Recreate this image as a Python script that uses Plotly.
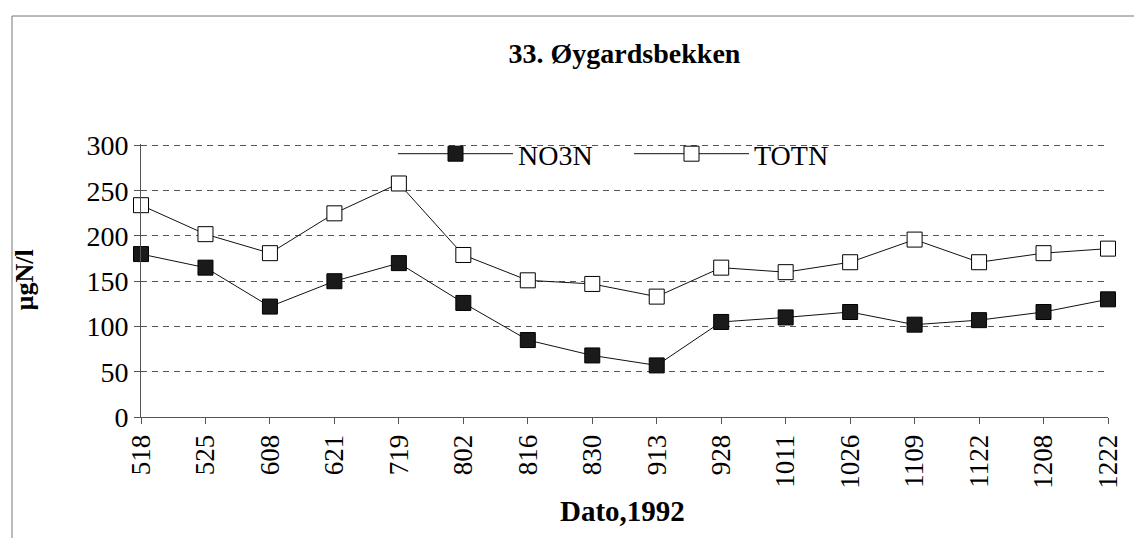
import plotly.graph_objects as go

dates = ["518", "525", "608", "621", "719", "802", "816", "830", "913",
         "928", "1011", "1026", "1109", "1122", "1208", "1222"]
no3n = [180, 165, 122, 150, 170, 126, 85, 68, 57, 105, 110, 116, 102, 107, 116, 130]
totn = [234, 202, 181, 225, 258, 179, 151, 147, 133, 165, 160, 171, 196, 171, 181, 186]

title_text = "33. Øygardsbekken"
y_title = "µgN/l"
x_title = "Dato,1992"

SERIF = "Liberation Serif, Times New Roman, serif"

# plot-area geometry (px)
L, R, T, B = 133, 1100, 136, 409
W, H = 1142, 538
pw, ph = R - L, B - T

def px_x(x):
    return (x - L) / pw

def px_y(y):
    return (B - y) / ph

fig = go.Figure()
fig.add_trace(go.Scatter(
    x=dates, y=no3n, name="NO3N", mode="lines+markers",
    line=dict(color="#111111", width=1),
    marker=dict(symbol="square", size=15, color="#1a1a1a",
                line=dict(color="#000000", width=1)),
    cliponaxis=False, legend="legend",
))
fig.add_trace(go.Scatter(
    x=dates, y=totn, name="TOTN", mode="lines+markers",
    line=dict(color="#111111", width=1),
    marker=dict(symbol="square", size=15, color="#ffffff",
                line=dict(color="#000000", width=1)),
    cliponaxis=False, legend="legend2",
))

leg_common = dict(orientation="h", xanchor="left", yanchor="middle",
                  itemwidth=115,
                  bgcolor="rgba(0,0,0,0)", font=dict(size=28, family=SERIF))

fig.update_layout(
    width=W, height=H,
    margin=dict(l=L, r=W - R, t=T, b=H - B, autoexpand=False),
    paper_bgcolor="white", plot_bgcolor="white",
    font=dict(family=SERIF, color="black"),
    title=dict(text="<b>" + title_text + "</b>", x=0.5, xref="paper",
               y=1 - 45 / H, yref="container", yanchor="middle",
               xanchor="center", font=dict(size=28, family=SERIF)),
    showlegend=True,
    legend=dict(x=px_x(385), y=px_y(146), **leg_common),
    legend2=dict(x=px_x(621), y=px_y(146), **leg_common),
    xaxis=dict(type="category", range=[0, len(dates) - 1],
               showgrid=False, showline=True, linecolor="#555555",
               linewidth=1, ticks="outside", ticklen=6, tickcolor="#555555",
               tickangle=-90, tickfont=dict(size=27, family=SERIF),
               zeroline=False),
    yaxis=dict(range=[0, 301.6], tick0=0, dtick=50, showgrid=True,
               gridcolor="#555555", griddash="6px,5px", gridwidth=1,
               showline=True, linecolor="#555555", linewidth=1,
               ticks="outside", ticklen=6, tickcolor="#555555",
               tickfont=dict(size=28, family=SERIF), zeroline=False),
    annotations=[
        dict(text="<b>" + y_title + "</b>", x=px_x(16), y=0.5,
             xref="paper", yref="paper", showarrow=False, textangle=-90,
             font=dict(size=26, family=SERIF), xanchor="center", yanchor="middle"),
        dict(text="<b>" + x_title + "</b>", x=px_x(614), y=px_y(503),
             xref="paper", yref="paper", showarrow=False,
             font=dict(size=29, family=SERIF), xanchor="center", yanchor="middle"),
    ],
    shapes=[
        dict(type="rect", xref="paper", yref="paper",
             x0=px_x(4), x1=px_x(1140), y0=px_y(545), y1=px_y(8),
             line=dict(color="#777777", width=1), fillcolor="rgba(0,0,0,0)",
             layer="below"),
    ],
)

fig.write_html("out.html")
